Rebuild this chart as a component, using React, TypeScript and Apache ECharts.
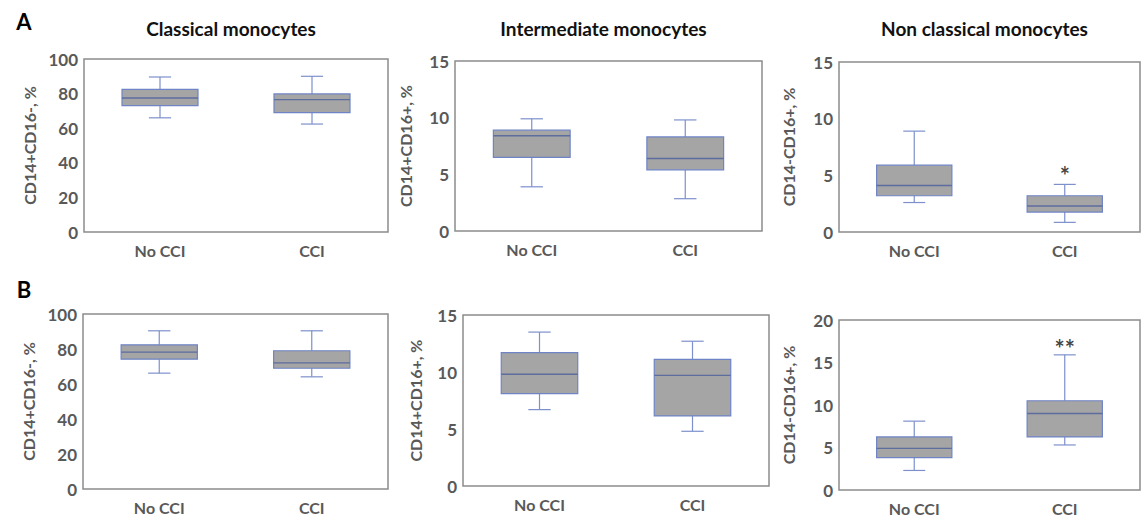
import React, { useEffect, useRef } from "react";
import * as echarts from "echarts";

const categories = ["No CCI", "CCI"];
const panelTitles = ["Classical monocytes", "Intermediate monocytes", "Non classical monocytes"];
const yAxisNames = ["CD14+CD16-, %", "CD14+CD16+, %", "CD14-CD16+, %"];
const rowLabels = ["A", "B"];

// Each box: [min, Q1, median, Q3, max]
const classicalA = [[66, 73, 77.5, 82.5, 89.6], [62.4, 69, 76.5, 79.8, 90]];
const intermediateA = [[3.9, 6.5, 8.4, 8.9, 9.9], [2.85, 5.4, 6.4, 8.3, 9.8]];
const nonClassicalA = [[2.6, 3.2, 4.1, 5.9, 8.9], [0.85, 1.76, 2.3, 3.2, 4.2]];
const classicalB = [[66.2, 74.2, 78.2, 82.4, 90.4], [64.1, 69, 72.1, 79, 90.4]];
const intermediateB = [[6.7, 8.1, 9.8, 11.7, 13.5], [4.8, 6.15, 9.7, 11.1, 12.7]];
const nonClassicalB = [[2.3, 3.8, 4.9, 6.25, 8.1], [5.3, 6.25, 9.0, 10.5, 15.9]];

const yMaxList = [100, 15, 15, 100, 15, 20];
const yIntervalList = [20, 5, 5, 20, 5, 5];

// significance marks: [panelIndex, categoryIndex, value, text]
const significance: [number, number, number, string][] = [
  [2, 1, 5.0, "*"],
  [5, 1, 16.6, "**"],
];

const panels = [classicalA, intermediateA, nonClassicalA, classicalB, intermediateB, nonClassicalB];

// layout (pixels)
const grids = [
  { left: 84, top: 59, width: 304, height: 173, nameGap: 47 },
  { left: 455, top: 61, width: 307, height: 170, nameGap: 42 },
  { left: 839, top: 62, width: 301, height: 170, nameGap: 43 },
  { left: 83, top: 314, width: 305, height: 175, nameGap: 47 },
  { left: 463, top: 315, width: 306, height: 171, nameGap: 40 },
  { left: 839, top: 320, width: 301, height: 170, nameGap: 43 },
];

const FONT = "Lato";
const TEXT_GRAY = "#595959";

export default function App() {
  const ref = useRef<HTMLDivElement>(null);
  useEffect(() => {
    document.body.style.margin = "0";
    const chart = echarts.init(ref.current!, undefined, { renderer: "svg" });

    const renderBox = (params: any, api: any) => {
      const cat = api.value(0);
      const vMin = api.value(1);
      const vQ1 = api.value(2);
      const vMed = api.value(3);
      const vQ3 = api.value(4);
      const vMax = api.value(5);
      const band = api.size([1, 0])[0];
      const half = band * 0.25;
      const cap = band * 0.073;
      const pMin = api.coord([cat, vMin]);
      const pQ1 = api.coord([cat, vQ1]);
      const pMed = api.coord([cat, vMed]);
      const pQ3 = api.coord([cat, vQ3]);
      const pMax = api.coord([cat, vMax]);
      const x = pMed[0];
      const whisker = { stroke: "#7d90cc", lineWidth: 1.2 };
      return {
        type: "group",
        children: [
          { type: "line", shape: { x1: x, y1: pMax[1], x2: x, y2: pQ3[1] }, style: whisker },
          { type: "line", shape: { x1: x, y1: pQ1[1], x2: x, y2: pMin[1] }, style: whisker },
          { type: "line", shape: { x1: x - cap, y1: pMax[1], x2: x + cap, y2: pMax[1] }, style: whisker },
          { type: "line", shape: { x1: x - cap, y1: pMin[1], x2: x + cap, y2: pMin[1] }, style: whisker },
          {
            type: "rect",
            shape: { x: x - half, y: pQ3[1], width: half * 2, height: pQ1[1] - pQ3[1] },
            style: { fill: "#a5a5a5", stroke: "#6f84c6", lineWidth: 1.2 },
          },
          { type: "line", shape: { x1: x - half, y1: pMed[1], x2: x + half, y2: pMed[1] }, style: { stroke: "#5d6d9e", lineWidth: 1.4 } },
        ],
      };
    };

    const gridOpts = grids.map((g) => ({
      left: g.left,
      top: g.top,
      width: g.width,
      height: g.height,
      show: true,
      borderColor: "#8c8c8c",
      borderWidth: 1.5,
      backgroundColor: "transparent",
    }));

    const xAxes = grids.map((_, i) => ({
      type: "category",
      gridIndex: i,
      data: categories,
      axisLine: { show: false },
      axisTick: { show: false },
      axisLabel: { color: TEXT_GRAY, fontFamily: FONT, fontWeight: "bold", fontSize: 16, margin: 10 },
    }));

    const yAxes = grids.map((g, i) => ({
      type: "value",
      gridIndex: i,
      min: 0,
      max: yMaxList[i],
      interval: yIntervalList[i],
      name: yAxisNames[i % 3],
      nameLocation: "middle",
      nameGap: g.nameGap,
      nameRotate: 90,
      nameTextStyle: { color: TEXT_GRAY, fontFamily: FONT, fontWeight: "bold", fontSize: 16 },
      axisLine: { show: false },
      axisTick: { show: false },
      splitLine: { show: false },
      axisLabel: { color: TEXT_GRAY, fontFamily: FONT, fontWeight: "bold", fontSize: 17, margin: 6 },
    }));

    const series: any[] = panels.map((boxes, i) => ({
      type: "custom",
      xAxisIndex: i,
      yAxisIndex: i,
      renderItem: renderBox,
      encode: { x: 0, y: [1, 2, 3, 4, 5] },
      data: boxes.map((b, k) => [k, ...b]),
    }));

    significance.forEach(([pi, ci, v, t]) => {
      series.push({
        type: "scatter",
        xAxisIndex: pi,
        yAxisIndex: pi,
        symbolSize: 0,
        data: [[ci, v]],
        label: {
          show: true,
          position: "inside",
          formatter: t,
          color: "#111",
          fontFamily: FONT,
          fontWeight: "bold",
          fontSize: 24,
        },
        silent: true,
      });
    });

    const graphics: any[] = [];
    panelTitles.forEach((t, i) => {
      const g = grids[i];
      graphics.push({
        type: "text",
        x: g.left + g.width / 2 - 5,
        y: 28,
        style: {
          text: t,
          fill: "#111",
          font: `bold 19px ${FONT}`,
          textAlign: "center",
          textVerticalAlign: "middle",
          align: "center",
          verticalAlign: "middle",
        },
      });
    });
    rowLabels.forEach((t, i) => {
      graphics.push({
        type: "text",
        x: 24,
        y: i === 0 ? 21 : 289,
        style: {
          text: t,
          fill: "#000",
          font: `bold 22px ${FONT}`,
          textAlign: "center",
          textVerticalAlign: "middle",
          align: "center",
          verticalAlign: "middle",
        },
      });
    });

    chart.setOption({
      animation: false,
      backgroundColor: "#ffffff",
      grid: gridOpts,
      xAxis: xAxes,
      yAxis: yAxes,
      series,
      graphic: graphics,
    });
    return () => chart.dispose();
  }, []);
  return <div ref={ref} style={{ width: 1146, height: 521 }} />;
}
